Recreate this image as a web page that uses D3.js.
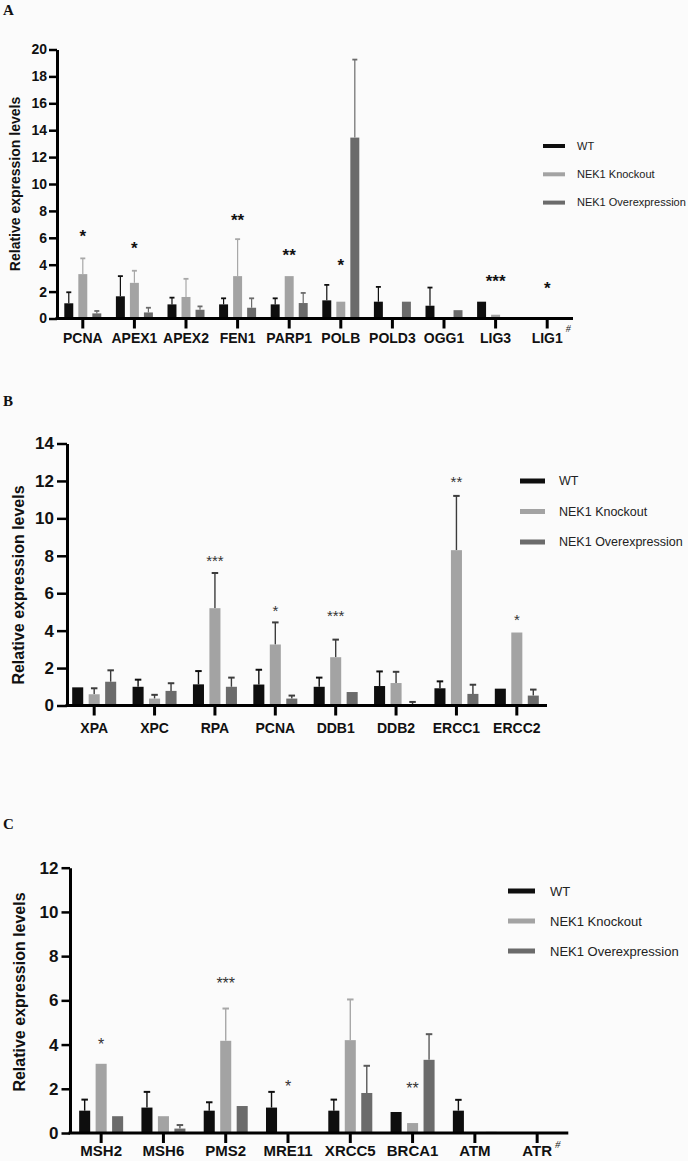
<!DOCTYPE html>
<html>
<head>
<meta charset="utf-8">
<script src="https://cdn.jsdelivr.net/npm/d3@7"></script>
<style>
  html, body { margin: 0; padding: 0; background: #fbfbfb; }
  svg { display: block; }
  .sans { font-family: Arial, "Liberation Sans", Helvetica, sans-serif; }
  .serif { font-family: "Times New Roman", "Liberation Serif", serif; }
</style>
</head>
<body>
<svg id="chart" width="688" height="1161"></svg>
<script>
// ---------------- DATA ----------------
const seriesNames = ["WT", "NEK1 Knockout", "NEK1 Overexpression"];

// Panel A
const catsA = ["PCNA", "APEX1", "APEX2", "FEN1", "PARP1", "POLB", "POLD3", "OGG1", "LIG3", "LIG1"];
const wtA     = [1.13, 1.65, 1.05, 1.05, 1.05, 1.35, 1.25, 0.95, 1.25, 0];
const wtErrA  = [0.82, 1.5, 0.5, 0.45, 0.45, 1.15, 1.1, 1.35, 0, 0];
const koA     = [3.3, 2.65, 1.6, 3.15, 3.15, 1.25, 0, 0, 0.28, 0];
const koErrA  = [1.17, 0.9, 1.35, 2.75, 0, 0, 0, 0, 0, 0];
const oeA     = [0.38, 0.45, 0.65, 0.8, 1.15, 13.45, 1.25, 0.62, 0, 0];
const oeErrA  = [0.18, 0.35, 0.25, 0.7, 0.75, 5.8, 0, 0, 0, 0];
const starCatsA = ["PCNA", "APEX1", "FEN1", "PARP1", "POLB", "LIG3", "LIG1"];
const starTxtA  = ["*", "*", "**", "**", "*", "***", "*"];
const starValA  = [6.36, 5.46, 7.55, 4.94, 4.2, 3.03, 2.49];
const ticksA = [0, 2, 4, 6, 8, 10, 12, 14, 16, 18, 20];

// Panel B
const catsB = ["XPA", "XPC", "RPA", "PCNA", "DDB1", "DDB2", "ERCC1", "ERCC2"];
const wtB     = [0.97, 1.0, 1.13, 1.12, 1.0, 1.04, 0.92, 0.9];
const wtErrB  = [0, 0.38, 0.71, 0.79, 0.49, 0.78, 0.37, 0];
const koB     = [0.6, 0.37, 5.2, 3.26, 2.58, 1.2, 8.3, 3.9];
const koErrB  = [0.32, 0.2, 1.88, 1.18, 0.94, 0.6, 2.9, 0];
const oeB     = [1.27, 0.78, 1.0, 0.37, 0.72, 0.07, 0.62, 0.53];
const oeErrB  = [0.61, 0.41, 0.49, 0.16, 0, 0.12, 0.49, 0.32];
const starCatsB = ["RPA", "PCNA", "DDB1", "ERCC1", "ERCC2"];
const starTxtB  = ["***", "*", "***", "**", "*"];
const starValB  = [7.9, 5.2, 4.95, 12.1, 4.75];
const ticksB = [0, 2, 4, 6, 8, 10, 12, 14];

// Panel C
const catsC = ["MSH2", "MSH6", "PMS2", "MRE11", "XRCC5", "BRCA1", "ATM", "ATR"];
const wtC     = [1.01, 1.15, 1.01, 1.15, 1.01, 0.95, 1.01, 0];
const wtErrC  = [0.5, 0.71, 0.38, 0.71, 0.5, 0, 0.49, 0];
const koC     = [3.13, 0.76, 4.17, 0.03, 4.2, 0.45, 0, 0];
const koErrC  = [0, 0, 1.46, 0, 1.84, 0, 0, 0];
const oeC     = [0.76, 0.2, 1.22, 0, 1.81, 3.31, 0.05, 0];
const oeErrC  = [0, 0.16, 0, 0, 1.23, 1.16, 0, 0];
const starCatsC = ["MSH2", "PMS2", "MRE11", "BRCA1"];
const starTxtC  = ["*", "***", "*", "**"];
const starValC  = [4.15, 6.92, 2.24, 2.15];
const ticksC = [0, 2, 4, 6, 8, 10, 12];

const yTitle = "Relative expression levels";

// ---------------- DRAW ----------------
const svg = d3.select("#chart");
svg.append("rect").attr("width", 688).attr("height", 1161).attr("fill", "#fbfbfb");

const barColors = ["#0e0e0e", "#a3a3a3", "#6b6b6b"];

function drawPanel(p) {
  const g = svg.append("g");
  const y = d3.scaleLinear().domain([0, p.yMax]).range([p.y0, p.yTop]);
  const x = d3.scaleBand().domain(p.cats).range([p.xStart, p.xEnd]);
  const inner = d3.scaleBand().domain(seriesNames)
    .range([-p.groupW / 2, p.groupW / 2]).paddingInner(p.gapRatio);

  const series = [
    { name: seriesNames[0], vals: p.wt, errs: p.wtErr, color: barColors[0], errColor: p.errColors[0] },
    { name: seriesNames[1], vals: p.ko, errs: p.koErr, color: barColors[1], errColor: p.errColors[1] },
    { name: seriesNames[2], vals: p.oe, errs: p.oeErr, color: barColors[2], errColor: p.errColors[2] }
  ];
  const cx = (cat, name) => x(cat) + x.bandwidth() / 2 + inner(name) + inner.bandwidth() / 2;

  // error bars
  series.forEach(s => {
    const d = p.cats.map((c, i) => ({ c, v: s.vals[i], e: s.errs[i] })).filter(d => d.e > 0);
    const eg = g.append("g").attr("stroke", s.errColor).attr("fill", "none");
    eg.selectAll("line.stem").data(d).join("line").attr("class", "stem")
      .attr("x1", d => cx(d.c, s.name)).attr("x2", d => cx(d.c, s.name))
      .attr("y1", d => y(d.v)).attr("y2", d => y(d.v + d.e))
      .attr("stroke-width", p.errW);
    eg.selectAll("line.cap").data(d).join("line").attr("class", "cap")
      .attr("x1", d => cx(d.c, s.name) - p.capW / 2).attr("x2", d => cx(d.c, s.name) + p.capW / 2)
      .attr("y1", d => y(d.v + d.e)).attr("y2", d => y(d.v + d.e))
      .attr("stroke-width", p.errW + 0.6);
  });

  // bars
  series.forEach(s => {
    const d = p.cats.map((c, i) => ({ c, v: s.vals[i] })).filter(d => d.v > 0);
    g.append("g").selectAll("rect").data(d).join("rect")
      .attr("x", d => x(d.c) + x.bandwidth() / 2 + inner(s.name))
      .attr("width", inner.bandwidth())
      .attr("y", d => y(d.v))
      .attr("height", d => y(0) - y(d.v))
      .attr("fill", s.color);
  });

  // y axis
  const ya = g.append("g").attr("transform", `translate(${p.axisX},0)`)
    .call(d3.axisLeft(y).tickValues(p.ticks).tickFormat(d3.format("d"))
      .tickSize(p.yTick).tickSizeOuter(0).tickPadding(p.yPad));
  ya.attr("font-family", null).attr("font-size", null);
  ya.select(".domain").attr("stroke", "#000").attr("stroke-width", 3);
  ya.selectAll(".tick line").attr("stroke", "#000").attr("stroke-width", 2.5);
  ya.selectAll(".tick text").attr("class", "sans").attr("font-weight", "bold")
    .attr("font-size", p.yFont).attr("fill", "#111");

  // x axis
  const xa = g.append("g").attr("transform", `translate(0,${p.y0})`)
    .call(d3.axisBottom(x).tickSize(p.xTick).tickSizeOuter(0).tickPadding(p.xPad));
  xa.attr("font-family", null).attr("font-size", null);
  xa.select(".domain").remove();
  xa.selectAll(".tick line").attr("stroke", "#000").attr("stroke-width", 3);
  xa.selectAll(".tick text").attr("class", "sans").attr("font-weight", "bold")
    .attr("font-size", p.xFont).attr("fill", "#111");
  g.append("line").attr("x1", p.axisX - 1.5).attr("x2", p.xEnd)
    .attr("y1", p.y0).attr("y2", p.y0).attr("stroke", "#000").attr("stroke-width", 3);

  // hash mark after last label
  if (p.hash) {
    const t = xa.selectAll(".tick").filter(d => d === p.hash).select("text");
    const w = t.node().getComputedTextLength();
    g.append("text").text("#").attr("class", "serif")
      .attr("x", x(p.hash) + x.bandwidth() / 2 + w / 2 + 3)
      .attr("y", p.y0 + p.hashDy)
      .attr("font-style", "italic").attr("font-size", p.hashFont)
      .attr("fill", "#222");
  }

  // stars
  const sd = p.starCats.map((c, i) => ({ c, t: p.starTxt[i], v: p.starVal[i] }));
  g.append("g").selectAll("text").data(sd).join("text")
    .attr("class", "sans")
    .attr("x", d => cx(d.c, seriesNames[1]))
    .attr("y", d => y(d.v) + p.starFont * 0.55)
    .attr("text-anchor", "middle")
    .attr("font-weight", p.starWeight)
    .attr("font-size", p.starFont).attr("fill", p.starColor)
    .text(d => d.t);

  // y title
  g.append("text").text(yTitle).attr("class", "sans")
    .attr("transform", `translate(${p.titleX},${p.titleY}) rotate(-90)`)
    .attr("text-anchor", "middle")
    .attr("font-weight", "bold")
    .attr("font-size", p.titleFont).attr("fill", "#111");

  // panel letter
  g.append("text").text(p.letter).attr("class", "serif").attr("x", 3).attr("y", p.letterY)
    .attr("font-weight", "bold").attr("font-size", 15).attr("fill", "#111");

  // legend
  const lg = g.append("g");
  seriesNames.forEach((n, i) => {
    const ly = p.legY + i * p.legStep;
    lg.append("rect").attr("x", p.legX).attr("y", ly - p.legH / 2)
      .attr("width", p.legW).attr("height", p.legH).attr("fill", barColors[i]);
    lg.append("text").text(n).attr("class", "sans").attr("x", p.legTextX).attr("y", ly).attr("dy", "0.35em")
      .attr("font-size", p.legFont).attr("fill", "#222");
  });
}

drawPanel({
  letter: "A", letterY: 15,
  cats: catsA, wt: wtA, wtErr: wtErrA, ko: koA, koErr: koErrA, oe: oeA, oeErr: oeErrA,
  starCats: starCatsA, starTxt: starTxtA, starVal: starValA, ticks: ticksA,
  yMax: 20, y0: 318.5, yTop: 49.5, axisX: 57, xStart: 57, xEnd: 573,
  groupW: 37, gapRatio: 0.36, errW: 1.2, capW: 5,
  errColors: ["#0e0e0e", "#a8a8a8", "#6b6b6b"],
  yTick: 8, yPad: 2, yFont: 14, xTick: 10, xPad: 4.6, xFont: 14,
  starFont: 17, starWeight: "bold", starColor: "#111",
  titleX: 20, titleY: 184, titleFont: 14,
  hash: "LIG1", hashDy: 13, hashFont: 10,
  legX: 543, legW: 22, legH: 4, legTextX: 577, legY: 146, legStep: 28.3, legFont: 11
});

drawPanel({
  letter: "B", letterY: 406,
  cats: catsB, wt: wtB, wtErr: wtErrB, ko: koB, koErr: koErrB, oe: oeB, oeErr: oeErrB,
  starCats: starCatsB, starTxt: starTxtB, starVal: starValB, ticks: ticksB,
  yMax: 14, y0: 705.5, yTop: 443.5, axisX: 67, xStart: 64, xEnd: 547,
  groupW: 44, gapRatio: 0.33, errW: 1.4, capW: 6.5,
  errColors: ["#0e0e0e", "#3c3c3c", "#3c3c3c"],
  yTick: 10, yPad: 3, yFont: 17, xTick: 10, xPad: 7.6, xFont: 14,
  starFont: 15, starWeight: "normal", starColor: "#333",
  titleX: 24, titleY: 585, titleFont: 16,
  hash: null,
  legX: 520, legW: 25, legH: 5, legTextX: 559, legY: 481, legStep: 30.5, legFont: 12.5
});

drawPanel({
  letter: "C", letterY: 829,
  cats: catsC, wt: wtC, wtErr: wtErrC, ko: koC, koErr: koErrC, oe: oeC, oeErr: oeErrC,
  starCats: starCatsC, starTxt: starTxtC, starVal: starValC, ticks: ticksC,
  yMax: 12, y0: 1133, yTop: 867.7, axisX: 70, xStart: 70, xEnd: 568.3,
  groupW: 44, gapRatio: 0.33, errW: 1.4, capW: 6.5,
  errColors: ["#0e0e0e", "#a8a8a8", "#5a5a5a"],
  yTick: 8.5, yPad: 3, yFont: 17, xTick: 10, xPad: 2.5, xFont: 15,
  starFont: 16, starWeight: "normal", starColor: "#333",
  titleX: 25, titleY: 992, titleFont: 16,
  hash: "ATR", hashDy: 15, hashFont: 11,
  legX: 508, legW: 27, legH: 5, legTextX: 550, legY: 891, legStep: 30, legFont: 13
});
</script>
</body>
</html>
